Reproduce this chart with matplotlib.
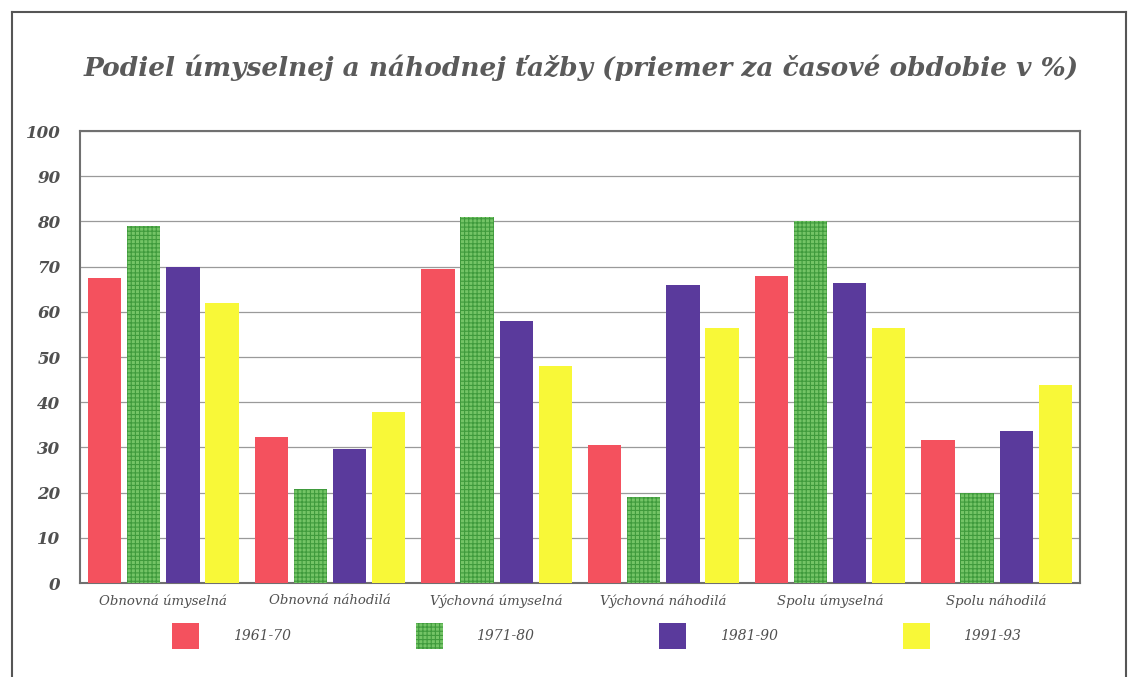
import numpy as np
import matplotlib.pyplot as plt
from matplotlib.lines import Line2D

# --- Data (% share)
categories = ["Obnovná úmyselná", "Obnovná náhodilá", "Výchovná úmyselná",
              "Výchovná náhodilá", "Spolu úmyselná", "Spolu náhodilá"]
periods = ["1961-70", "1971-80", "1981-90", "1991-93"]
v_1961_70 = [67.5, 32.2, 69.5, 30.5, 68.0, 31.6]
v_1971_80 = [79.0, 20.8, 81.0, 19.0, 80.0, 20.0]
v_1981_90 = [70.0, 29.7, 58.0, 66.0, 66.3, 33.6]
v_1991_93 = [62.0, 37.8, 48.0, 56.4, 56.4, 43.8]
series = [v_1961_70, v_1971_80, v_1981_90, v_1991_93]

colors = ["#f4515e", "#74c466", "#5a3a9c", "#f8f838"]
text_col = "#505050"

plt.rcParams["hatch.linewidth"] = 0.8
fig = plt.figure(figsize=(11.3, 6.77), dpi=100)
ax = fig.add_axes([80 / 1130, 1 - 583 / 677, 1000 / 1130, 452 / 677])

x = np.arange(len(categories))
width = 0.2
step = 0.235
bars = []
for i, vals in enumerate(series):
    pos = x + (i - 1.5) * step
    if i == 1:
        b = ax.bar(pos, vals, width, color=colors[i], edgecolor="#3f9a3c",
                   hatch="++++", linewidth=0, zorder=3)
    else:
        b = ax.bar(pos, vals, width, color=colors[i], linewidth=0, zorder=3)
    bars.append(b)

ax.set_xlim(-0.5, len(categories) - 0.5)
ax.set_ylim(0, 100)
ax.set_yticks(range(0, 101, 10))
ax.grid(axis="y", color="#9a9a9a", linewidth=0.9, zorder=0)
ax.set_xticks(x)
ax.set_xticklabels(categories)
ax.tick_params(length=0)
ax.tick_params(axis="y", pad=14)
ax.tick_params(axis="x", pad=8)
for lab in ax.get_yticklabels():
    lab.set(family="DejaVu Serif", style="italic", fontsize=12, color=text_col,
            fontweight="bold")
for lab in ax.get_xticklabels():
    lab.set(family="DejaVu Serif", style="italic", fontsize=9.5, color=text_col)
for sp in ax.spines.values():
    sp.set_color("#707070")
    sp.set_linewidth(1.5)

fig.text(0.514, 1 - 68 / 677,
         "Podiel úmyselnej a náhodnej ťažby (priemer za časové obdobie v %)",
         ha="center", va="center", family="DejaVu Serif", style="italic",
         fontweight="bold", fontsize=19, color="#5a5a5a")

# --- Legend
leg = fig.legend([b[0] for b in bars], periods, ncol=4, loc="center",
                 bbox_to_anchor=(0.528, 1 - 636 / 677), frameon=False,
                 handlelength=1.95, handleheight=2.5, handletextpad=2.4,
                 columnspacing=9.0,
                 prop={"family": "DejaVu Serif", "style": "italic", "size": 10})
for t in leg.get_texts():
    t.set_color(text_col)

# --- Outer frame
fig.add_artist(Line2D([12 / 1130, 1126 / 1130], [1 - 12 / 677, 1 - 12 / 677],
                      color="#555555", linewidth=1.5))
fig.add_artist(Line2D([12 / 1130, 12 / 1130], [1 - 12 / 677, 0],
                      color="#555555", linewidth=1.5))
fig.add_artist(Line2D([1126 / 1130, 1126 / 1130], [1 - 12 / 677, 0],
                      color="#555555", linewidth=1.5))

fig.savefig("out.png", dpi=100)
